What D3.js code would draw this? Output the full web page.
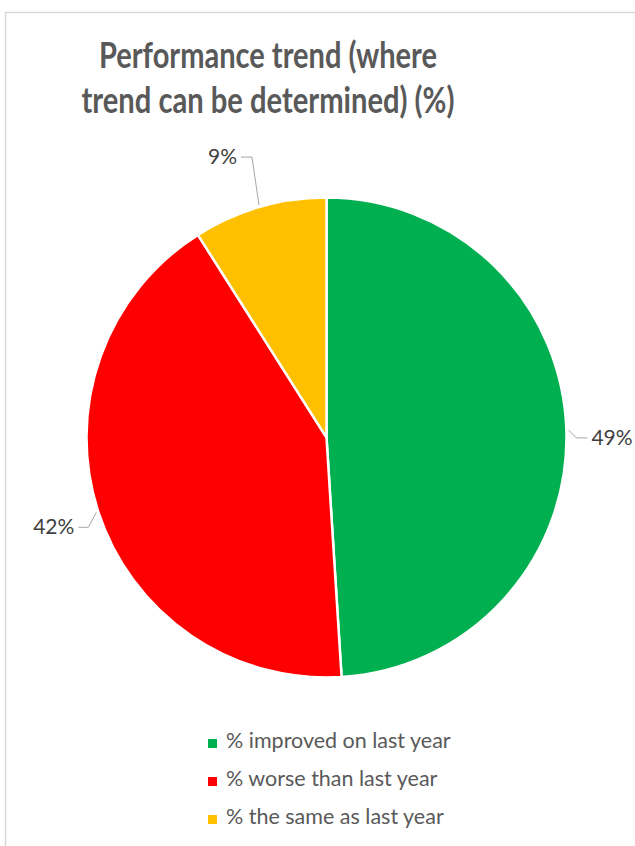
<!DOCTYPE html>
<html>

<head>
    <script src="https://d3js.org/d3.v7.min.js"></script>
    <style>
        body { margin: 0; background: white; }
    </style>
    <script>
        const width = 635
        const height = 846

        const fontFamily = "Lato, 'Open Sans', sans-serif"
        const titleColor = "#595959"
        const labelColor = "#404040"

        // chart data
        const titleLines = ["Performance trend (where", "trend can be determined) (%)"]
        const categories = ["% improved on last year", "% worse than last year", "% the same as last year"]
        const values = [49, 42, 9]
        const colors = ["#00B050", "#FF0000", "#FFC000"]

        // label layout: elbow offset from edge point, then horizontal run (dx sign = side)
        const labelElbows = [[8, 8, 11], [-8, 15, -10], [-7, -48, -11]]

        const cx = 326.5
        const cy = 437.5
        const radius = 240

        function draw() {
            const svg = d3.select("body").append("svg")
                .attr("width", width)
                .attr("height", height)

            // chart area border (only left and top visible in frame)
            svg.append("rect")
                .attr("x", 5.5).attr("y", 12.5)
                .attr("width", 700).attr("height", 900)
                .attr("fill", "white")
                .attr("stroke", "#d9d9d9")
                .attr("stroke-width", 1.5)

            // title - Calibri is narrow, so squeeze the substitute font to the same width
            const title = svg.append("g")
            const titleWidths = [338, 373]
            titleLines.forEach((line, i) => {
                title.append("text")
                    .text(line)
                    .attr("x", 268)
                    .attr("y", 68 + i * 45)
                    .attr("text-anchor", "middle")
                    .attr("textLength", titleWidths[i])
                    .attr("lengthAdjust", "spacingAndGlyphs")
                    .style("font-family", fontFamily)
                    .style("font-weight", "bold")
                    .style("font-size", "36px")
                    .style("fill", titleColor)
            })

            const pie = d3.pie().sort(null).value(d => d)
            const arcs = pie(values)
            const arc = d3.arc().innerRadius(0).outerRadius(radius)

            const g = svg.append("g").attr("transform", `translate(${cx},${cy})`)
            g.selectAll(".slice")
                .data(arcs)
                .enter()
                .append("path")
                .attr("class", "slice")
                .attr("d", arc)
                .attr("fill", (d, i) => colors[i])
                .attr("stroke", "white")
                .attr("stroke-width", 2.5)

            // data labels with leader lines
            arcs.forEach((d, i) => {
                const mid = (d.startAngle + d.endAngle) / 2
                const ex = Math.sin(mid) * (radius + 2)
                const ey = -Math.cos(mid) * (radius + 2)
                const [dx, dy, run] = labelElbows[i]
                const bx = ex + dx
                const by = ey + dy
                const hx = bx + run
                g.append("path")
                    .attr("d", d3.line()([[ex, ey], [bx, by], [hx, by]]))
                    .attr("fill", "none")
                    .attr("stroke", "#a6a6a6")
                    .attr("stroke-width", 1)
                g.append("text")
                    .text(values[i] + "%")
                    .attr("x", hx + (run > 0 ? 4 : -4))
                    .attr("y", by + 7)
                    .attr("text-anchor", run > 0 ? "start" : "end")
                    .style("font-family", fontFamily)
                    .style("font-size", "21px")
                    .style("fill", labelColor)
            })

            // legend
            const legend = svg.append("g").attr("transform", "translate(208,740)")
            const items = legend.selectAll(".item")
                .data(categories)
                .enter()
                .append("g")
                .attr("class", "item")
                .attr("transform", (d, i) => `translate(0, ${i * 38})`)
            items.append("rect")
                .attr("width", 9).attr("height", 9)
                .attr("y", -1)
                .attr("fill", (d, i) => colors[i])
            items.append("text")
                .text(d => d)
                .attr("x", 18)
                .attr("y", 7.5)
                .style("font-family", fontFamily)
                .style("font-size", "21.5px")
                .style("fill", titleColor)
        }
    </script>
</head>

<body onload="draw()">
</body>

</html>
